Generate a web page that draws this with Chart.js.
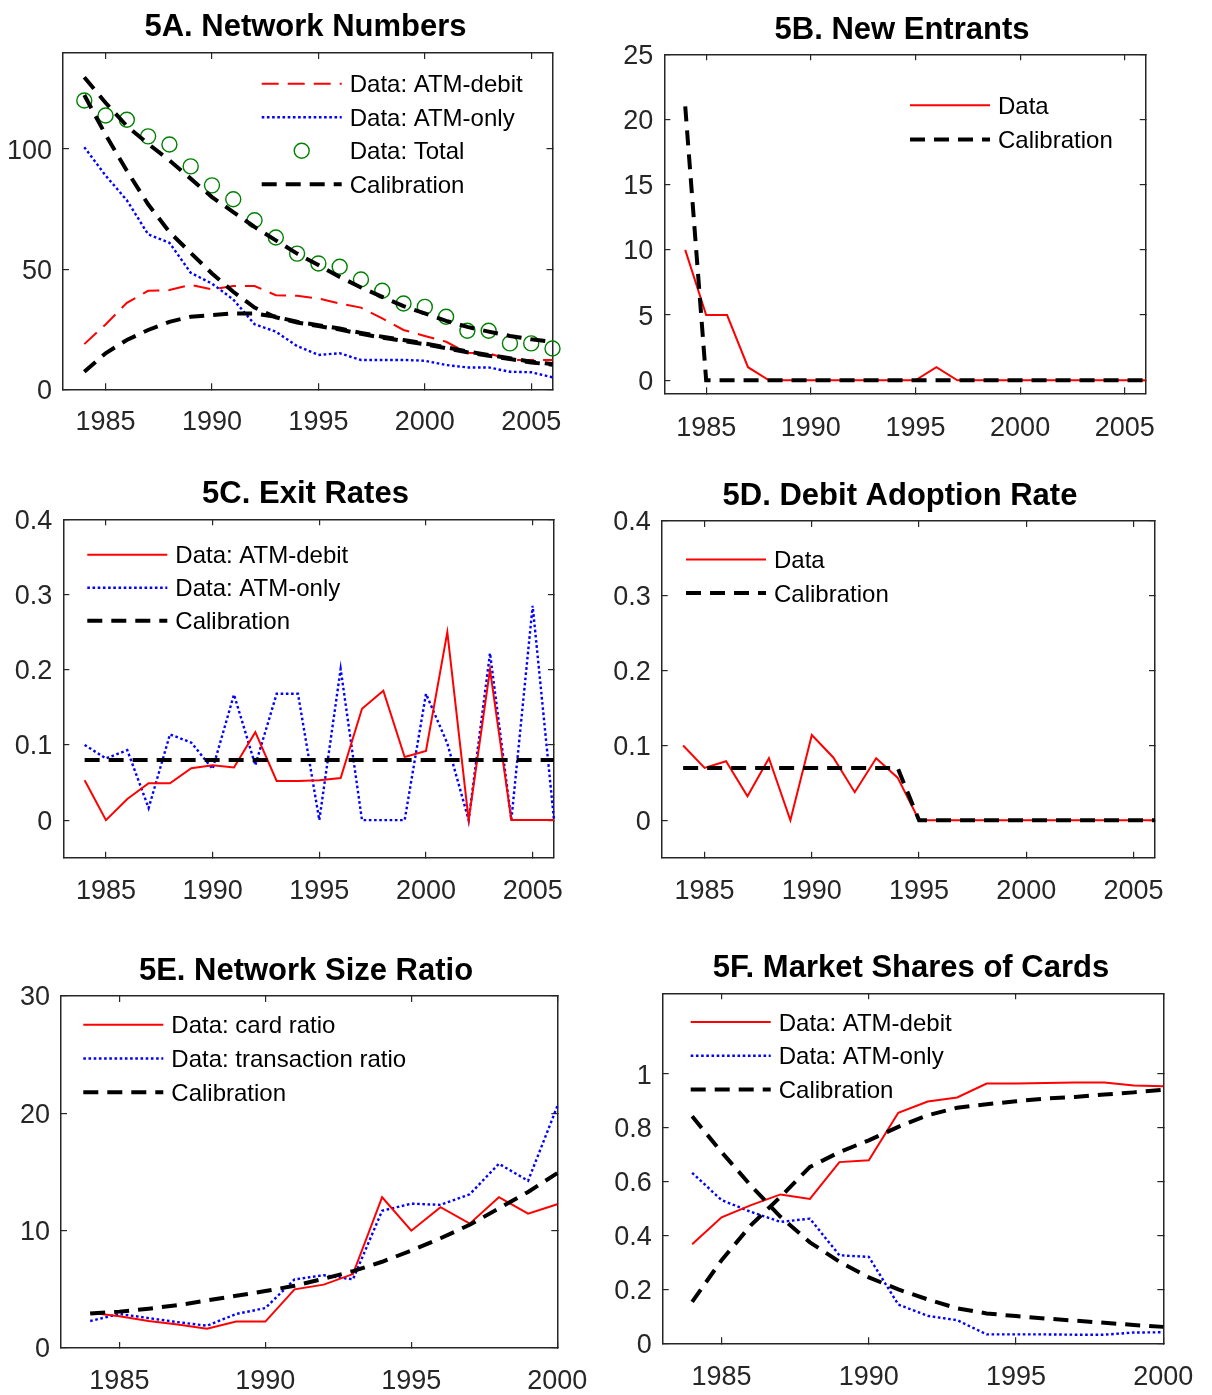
<!DOCTYPE html>
<html>
<head>
<meta charset="utf-8">
<script src="https://cdn.jsdelivr.net/npm/chart.js@4.4.1/dist/chart.umd.min.js"></script>
<style>
html,body{margin:0;padding:0;background:#fff;}
#wrap{position:relative;width:1212px;height:1395px;overflow:hidden;background:#fff;}
#wrap canvas{position:absolute;}
</style>
</head>
<body>
<div id="wrap">
<canvas id="cA"></canvas>
<canvas id="cB"></canvas>
<canvas id="cC"></canvas>
<canvas id="cD"></canvas>
<canvas id="cE"></canvas>
<canvas id="cF"></canvas>
</div>
<script>
// ---------------- DATA ----------------
const years84to06 = [1984,1985,1986,1987,1988,1989,1990,1991,1992,1993,1994,1995,1996,1997,1998,1999,2000,2001,2002,2003,2004,2005,2006];
const years84to00 = [1984,1985,1986,1987,1988,1989,1990,1991,1992,1993,1994,1995,1996,1997,1998,1999,2000];

// 5A Network Numbers
const aAtmDebit = [18.8,27,36,41,41.3,43.5,41.6,43,43,39.2,38.9,37.8,35.7,34,29.5,24.7,22.2,19.8,15.2,15,12.2,12.2,12.2];
const aAtmOnly  = [100.8,89,78.7,64.5,61,48.5,44,37.4,27.1,24,18,14.3,15,12.2,12.2,12.2,11.9,10.1,9.1,9.1,7.3,7.1,5];
const aTotal    = [120.2,114,112.2,105.3,101.9,92.8,84.9,79.1,70.4,63.2,56.5,52.4,51,45.7,41,35.7,34.3,30.2,24.4,24.4,19.1,19.1,17];
const aCalTotal = [129.9,119.3,109.6,102.2,95.3,87.7,80,73.8,67.6,62,56.5,51.7,46.8,42.4,38.5,34.6,31.6,28.5,26,24,22.2,20.8,19.8];
const aCalOnly  = [122.5,106,91,77,65.5,56.8,48.2,40.6,34,30,27.8,26.3,24.9,23.1,21.5,20.1,18.7,17.1,15.4,14,12.6,11.2,10.2];
const aCalDebit = [7.3,15,20.5,24.7,28.1,30.2,30.9,31.6,31.6,30.2,28.1,26.7,25.3,23.5,21.9,20.5,19.1,17.5,15.7,14.3,12.9,11.5,10.5];

// 5B New Entrants
const bData = [10,5,5,1,0,0,0,0,0,0,0,0,1,0,0,0,0,0,0,0,0,0,0];
const bCal  = [21,0,0,0,0,0,0,0,0,0,0,0,0,0,0,0,0,0,0,0,0,0,0];

// 5C Exit Rates
const cAtmDebit = [0.053,0,0.028,0.049,0.049,0.069,0.073,0.07,0.117,0.052,0.052,0.053,0.056,0.148,0.172,0.084,0.092,0.25,0,0.2,0,0,0];
const cAtmOnly  = [0.1,0.082,0.093,0.016,0.114,0.103,0.068,0.167,0.073,0.168,0.168,0,0.201,0,0,0,0.168,0.102,0,0.222,0,0.285,0];
const cCal      = [0.08,0.08,0.08,0.08,0.08,0.08,0.08,0.08,0.08,0.08,0.08,0.08,0.08,0.08,0.08,0.08,0.08,0.08,0.08,0.08,0.08,0.08,0.08];

// 5D Debit Adoption Rate
const dData = [0.1,0.07,0.079,0.032,0.083,0,0.114,0.084,0.0375,0.083,0.057,0,0,0,0,0,0,0,0,0,0,0,0];
const dCal  = [0.07,0.07,0.07,0.07,0.07,0.07,0.07,0.07,0.07,0.07,0.07,0,0,0,0,0,0,0,0,0,0,0,0];

// 5E Network Size Ratio
const eCard  = [3.0,2.7,2.3,2.0,1.65,2.25,2.25,5.0,5.4,6.3,12.85,10.0,12.0,10.6,12.85,11.45,12.25];
const eTrans = [2.3,2.9,2.55,2.2,1.9,2.9,3.4,5.85,6.2,5.85,11.7,12.3,12.2,13.1,15.7,14.25,20.6];
const eCal   = [2.95,3.1,3.35,3.65,4.05,4.45,4.85,5.3,5.9,6.55,7.35,8.3,9.35,10.5,11.9,13.3,14.9];

// 5F Market Shares of Cards
const fAtmDebit = [0.368,0.468,0.513,0.553,0.536,0.673,0.68,0.856,0.898,0.913,0.965,0.965,0.967,0.969,0.969,0.958,0.955];
const fAtmOnly  = [0.633,0.532,0.488,0.451,0.463,0.327,0.321,0.144,0.102,0.086,0.033,0.033,0.033,0.032,0.032,0.04,0.041];
const fCalDebit = [0.154,0.309,0.439,0.544,0.655,0.71,0.754,0.804,0.847,0.875,0.888,0.899,0.909,0.915,0.924,0.932,0.942];
const fCalOnly  = [0.843,0.71,0.585,0.47,0.375,0.303,0.245,0.2,0.163,0.13,0.111,0.101,0.092,0.084,0.076,0.068,0.061];

// Tick labels
const xTicks06 = [1985,1990,1995,2000,2005];
const xTicks00 = [1985,1990,1995,2000];
const yTicksA = [0,50,100];
const yTicksB = [0,5,10,15,20,25];
const yTicksCD = [0,0.1,0.2,0.3,0.4];
const yTicksCDLabels = ['0','0.1','0.2','0.3','0.4'];
const yTicksE = [0,10,20,30];
const yTicksF = [0,0.2,0.4,0.6,0.8,1];
const yTicksFLabels = ['0','0.2','0.4','0.6','0.8','1'];

const titles = ['5A. Network Numbers','5B. New Entrants','5C. Exit Rates','5D. Debit Adoption Rate','5E. Network Size Ratio','5F. Market Shares of Cards'];

// ---------------- STYLE ----------------
const FONT = "'Liberation Sans', Arial, Helvetica, sans-serif";
const AXIS = '#262626';
const TICK_SIZE = 27, TITLE_SIZE = 31, LEG_SIZE = 24;
const redDash  = {borderColor:'#ff0000', borderWidth:2, borderDash:[17,9]};
const redSolid = {borderColor:'#ff0000', borderWidth:2, borderDash:[]};
const blueDot  = {borderColor:'#0000ff', borderWidth:2.4, borderDash:[2.6,2.6]};
const blackDash= {borderColor:'#000000', borderWidth:4, borderDash:[15,9]};

function pts(xs, ys){ return xs.map((x,i)=>({x:x, y:ys[i]})); }
function line(label, xs, ys, style, order){
  return Object.assign({label:label, data:pts(xs,ys), pointRadius:0, fill:false, tension:0, clip:false, order:order}, style);
}
function circles(label, xs, ys){
  return {label:label, data:pts(xs,ys), showLine:false, pointStyle:'circle', pointRadius:7.5,
    pointBorderColor:'#008000', pointBackgroundColor:'rgba(0,0,0,0)', pointBorderWidth:1.4,
    borderColor:'#008000', backgroundColor:'rgba(0,0,0,0)', clip:false, order:1};
}

// legend drawn inside the plot area
const insideLegend = {
  id:'insideLegend',
  afterDatasetsDraw(chart, args, opts){
    if(!opts || !opts.items) return;
    const ctx = chart.ctx, ca = chart.chartArea;
    ctx.save();
    ctx.font = LEG_SIZE + 'px ' + FONT;
    ctx.textBaseline = 'middle';
    ctx.textAlign = 'left';
    opts.items.forEach((idx, i) => {
      const ds = chart.data.datasets[idx];
      const x0 = ca.left + opts.dx, y = ca.top + opts.dy + i*opts.step;
      const len = 80;
      if(ds.showLine === false){
        ctx.beginPath();
        ctx.setLineDash([]);
        ctx.lineWidth = ds.pointBorderWidth;
        ctx.strokeStyle = ds.pointBorderColor;
        ctx.arc(x0 + len/2, y, ds.pointRadius, 0, Math.PI*2);
        ctx.stroke();
      } else {
        ctx.beginPath();
        ctx.setLineDash(ds.borderDash || []);
        ctx.lineWidth = ds.borderWidth;
        ctx.strokeStyle = ds.borderColor;
        ctx.moveTo(x0, y); ctx.lineTo(x0+len, y);
        ctx.stroke();
      }
      ctx.setLineDash([]);
      ctx.fillStyle = '#000';
      ctx.fillText(ds.label, x0 + len + 8, y + 2);
    });
    ctx.restore();
  }
};

function makePanel(p){
  const cv = document.getElementById(p.id);
  cv.width = p.w; cv.height = p.h;
  cv.style.left = p.left + 'px'; cv.style.top = p.top + 'px';
  const lh = TITLE_SIZE*1.2;
  const padTop = p.titleY - p.top - lh/2;
  const padBottom = p.plot.t - p.titleY - lh/2;
  const tickFont = {family:FONT, size:TICK_SIZE};
  const gridOpt = {drawOnChartArea:false, tickLength:-6, color:AXIS, lineWidth:1.2};
  const borderOpt = {display:true, color:AXIS, width:1.5};
  const xLabel = v => String(v);
  const yLabel = v => { const i = p.yTicks.indexOf(v); return (p.yLabels && i>=0) ? p.yLabels[i] : String(v); };
  return new Chart(cv, {
    type:'line',
    data:{datasets:p.datasets},
    plugins:[insideLegend],
    options:{
      responsive:false, animation:false, devicePixelRatio:1, events:[],
      layout:{padding:0},
      plugins:{
        legend:{display:false}, tooltip:{enabled:false},
        title:{display:true, text:p.title, color:'#000', font:{family:FONT, size:TITLE_SIZE, weight:'bold', lineHeight:1.2}, padding:{top:padTop, bottom:padBottom}},
        insideLegend:p.legend
      },
      scales:{
        x:{type:'linear', position:'bottom', min:p.xMin, max:p.xMax,
           afterBuildTicks:s=>{ s.ticks = p.xTicks.map(v=>({value:v})); },
           ticks:{font:tickFont, color:AXIS, padding:p.xPad, maxRotation:0, minRotation:0, autoSkip:false, callback:xLabel},
           grid:gridOpt, border:borderOpt,
           afterFit:s=>{ s.height = p.top + p.h - p.plot.b; }},
        x2:{type:'linear', position:'top', min:p.xMin, max:p.xMax,
           afterBuildTicks:s=>{ s.ticks = p.xTicks.map(v=>({value:v})); },
           ticks:{display:false}, grid:gridOpt, border:borderOpt,
           afterFit:s=>{ s.height = 0; }},
        y:{type:'linear', position:'left', min:p.yMin, max:p.yMax,
           afterBuildTicks:s=>{ s.ticks = p.yTicks.map(v=>({value:v})); },
           ticks:{font:tickFont, color:AXIS, padding:17, labelOffset:2, autoSkip:false, callback:yLabel},
           grid:gridOpt, border:borderOpt,
           afterFit:s=>{ s.width = p.plot.l - p.left; }},
        y2:{type:'linear', position:'right', min:p.yMin, max:p.yMax,
           afterBuildTicks:s=>{ s.ticks = p.yTicks.map(v=>({value:v})); },
           ticks:{display:false}, grid:gridOpt, border:borderOpt,
           afterFit:s=>{ s.width = p.left + p.w - p.plot.r; }}
      }
    }
  });
}

// canvas widths chosen so each title is centred where the reference title sits
// 5A
makePanel({id:'cA', left:0, top:0, w:611, h:445, plot:{l:63, t:53, r:552.5, b:389.3}, titleY:27.5, title:titles[0],
  xMin:1983, xMax:2006, xTicks:xTicks06, xPad:23, yMin:0, yMax:140, yTicks:yTicksA,
  datasets:[
    line('Data: ATM-debit', years84to06, aAtmDebit, redDash, 2),
    line('Data: ATM-only', years84to06, aAtmOnly, blueDot, 2),
    circles('Data: Total', years84to06, aTotal),
    line('Calibration', years84to06, aCalTotal, blackDash, 0),
    line('Calibration (ATM-only)', years84to06, aCalOnly, blackDash, 0),
    line('Calibration (ATM-debit)', years84to06, aCalDebit, blackDash, 0)
  ],
  legend:{items:[0,1,2,3], dx:198.7, dy:30.8, step:33.5}
});

// 5B
makePanel({id:'cB', left:600, top:0, w:604, h:445, plot:{l:664.3, t:54.3, r:1145.7, b:393.3}, titleY:30.5, title:titles[1],
  xMin:1983, xMax:2006, xTicks:xTicks06, xPad:25, yMin:-1, yMax:25, yTicks:yTicksB,
  datasets:[
    line('Data', years84to06, bData, redSolid, 1),
    line('Calibration', years84to06, bCal, blackDash, 0)
  ],
  legend:{items:[0,1], dx:245.7, dy:51, step:34.3}
});

// 5C
makePanel({id:'cC', left:0, top:440, w:611, h:470, plot:{l:63.3, t:519.3, r:554, b:857.7}, titleY:494.5, title:titles[2],
  xMin:1983, xMax:2006, xTicks:xTicks06, xPad:23.5, yMin:-0.05, yMax:0.4, yTicks:yTicksCD, yLabels:yTicksCDLabels,
  datasets:[
    line('Data: ATM-debit', years84to06, cAtmDebit, redSolid, 1),
    line('Data: ATM-only', years84to06, cAtmOnly, blueDot, 2),
    line('Calibration', years84to06, cCal, blackDash, 0)
  ],
  legend:{items:[0,1,2], dx:24, dy:35.5, step:33}
});

// 5D
makePanel({id:'cD', left:600, top:440, w:600, h:470, plot:{l:661.7, t:521, r:1155, b:857.7}, titleY:496.5, title:titles[3],
  xMin:1983, xMax:2006, xTicks:xTicks06, xPad:23.5, yMin:-0.05, yMax:0.4, yTicks:yTicksCD, yLabels:yTicksCDLabels,
  datasets:[
    line('Data', years84to06, dData, redSolid, 1),
    line('Calibration', years84to06, dCal, blackDash, 0)
  ],
  legend:{items:[0,1], dx:24.3, dy:38.5, step:33.4}
});

// 5E
makePanel({id:'cE', left:0, top:915, w:612, h:480, plot:{l:61, t:996, r:557.3, b:1348}, titleY:971.5, title:titles[4],
  xMin:1983, xMax:2000, xTicks:xTicks00, xPad:23.5, yMin:0, yMax:30, yTicks:yTicksE,
  datasets:[
    line('Data: card ratio', years84to00, eCard, redSolid, 1),
    line('Data: transaction ratio', years84to00, eTrans, blueDot, 2),
    line('Calibration', years84to00, eCal, blackDash, 0)
  ],
  legend:{items:[0,1,2], dx:22.3, dy:28.8, step:33.7}
});

// 5F
makePanel({id:'cF', left:600, top:915, w:622, h:480, plot:{l:662.7, t:993.3, r:1163.3, b:1343.3}, titleY:968.5, title:titles[5],
  xMin:1983, xMax:2000, xTicks:xTicks00, xPad:24, yMin:0, yMax:1.3, yTicks:yTicksF, yLabels:yTicksFLabels,
  datasets:[
    line('Data: ATM-debit', years84to00, fAtmDebit, redSolid, 1),
    line('Data: ATM-only', years84to00, fAtmOnly, blueDot, 2),
    line('Calibration', years84to00, fCalDebit, blackDash, 0),
    line('Calibration (ATM-only)', years84to00, fCalOnly, blackDash, 0)
  ],
  legend:{items:[0,1,2], dx:28, dy:28.8, step:33.7}
});
</script>
</body>
</html>
